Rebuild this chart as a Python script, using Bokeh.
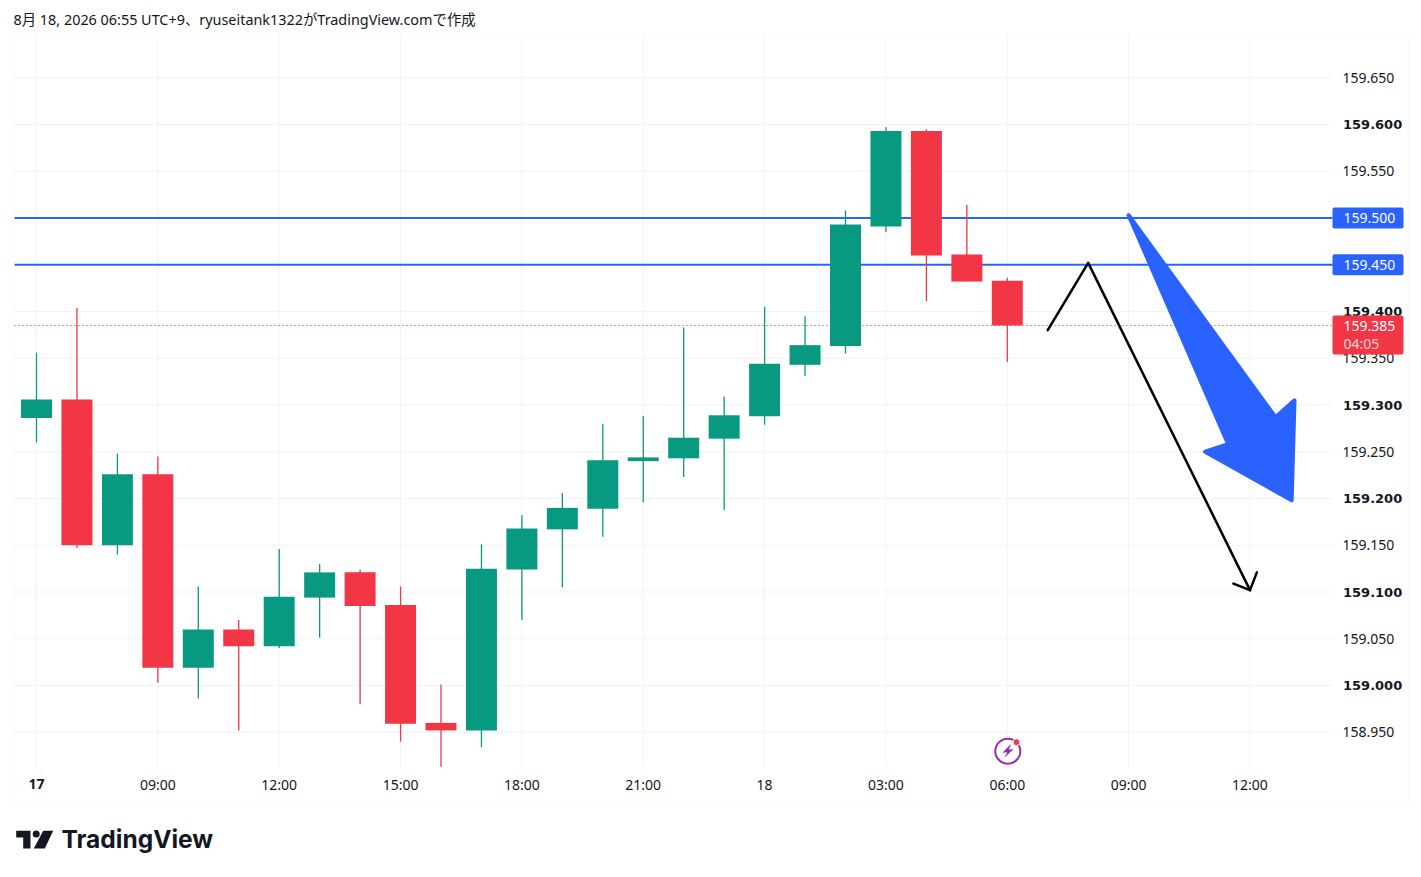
from bokeh.plotting import figure
from bokeh.embed import file_html
from bokeh.resources import INLINE
from bokeh.models import (ColumnDataSource, Range1d, LinearAxis, FixedTicker, Label,
                          BoxAnnotation, PolyAnnotation)

bar_index = list(range(25))
opens = [159.286,159.306,159.150,159.226,159.019,159.060,159.042,159.094,159.121,159.086,158.960,158.952,159.124,159.167,159.189,159.240,159.243,159.264,159.288,159.343,159.363,159.491,159.593,159.461,159.433]
highs = [159.356,159.404,159.248,159.245,159.106,159.070,159.146,159.130,159.124,159.106,159.001,159.151,159.182,159.206,159.280,159.288,159.383,159.309,159.405,159.395,159.508,159.597,159.595,159.514,159.436]
lows  = [159.260,159.147,159.140,159.003,158.986,158.952,159.040,159.051,158.980,158.940,158.913,158.934,159.070,159.105,159.159,159.196,159.223,159.188,159.279,159.331,159.355,159.485,159.411,159.432,159.346]
closes= [159.306,159.150,159.226,159.019,159.060,159.042,159.095,159.121,159.085,158.959,158.952,159.125,159.168,159.190,159.241,159.244,159.265,159.289,159.344,159.364,159.493,159.593,159.460,159.432,159.385]

time_ticks = [0,3,6,9,12,15,18,21,24,27,30]
time_labels = ["17","09:00","12:00","15:00","18:00","21:00","18","03:00","06:00","09:00","12:00"]
price_ticks = [158.95,159.0,159.05,159.1,159.15,159.2,159.25,159.3,159.35,159.4,159.45,159.5,159.55,159.6,159.65]
price_labels = ["158.950","159.000","159.050","159.100","159.150","159.200","159.250","159.300","159.350","159.400","159.450","159.500","159.550","159.600","159.650"]
strong_prices = ["159.000","159.100","159.200","159.300","159.400","159.600"]
levels = [159.5, 159.45]
level_labels = ["159.500", "159.450"]
last_price = 159.385
countdown = "04:05"
path_x = [25, 26, 30]
path_y = [159.380, 159.452, 159.102]
head_x = [29.59, 30.0, 30.17]
head_y = [159.109, 159.102, 159.121]
big_x = [27, 30.63, 31.1, 31.03, 28.89, 29.46]
big_y = [159.503, 159.287, 159.305, 159.198, 159.250, 159.258]
caption = "8月 18, 2026 06:55 UTC+9、ryuseitank1322がTradingView.comで作成"

GREEN, RED, BLUE, INK, GRID = "#089981", "#f23645", "#2962ff", "#131722", "#f1f3f7"
PURPLE = "#9c27b0"
FONT = "'Noto Sans', 'Noto Sans CJK JP', sans-serif"
W, H = 1413, 869

# picture pixel -> data coordinate, used for the page furniture around the chart
def X(px): return (px - 36.0) / 40.45
def Y(py): return 159.6 - (py - 124.0) / 935.0

up = [c >= o for o, c in zip(opens, closes)]
src = ColumnDataSource(dict(
    x=bar_index, high=highs, low=lows,
    top=[max(o, c) for o, c in zip(opens, closes)],
    bottom=[min(o, c) for o, c in zip(opens, closes)],
    color=[GREEN if u else RED for u in up]))

p = figure(width=W, height=H, output_backend="svg", toolbar_location=None,
           x_range=Range1d(X(0), X(W)), y_range=Range1d(Y(H), Y(0)),
           min_border=0, background_fill_color="white", border_fill_color="white",
           outline_line_color=None, x_axis_location=None, y_axis_location=None)
p.grid.visible = False

pane_l, pane_r, pane_t, pane_b = X(14), X(1332), Y(35), Y(767)
p.segment(time_ticks, pane_b, time_ticks, pane_t, line_color=GRID, line_width=1)
p.segment(pane_l, price_ticks, pane_r, price_ticks, line_color=GRID, line_width=1)

ax = LinearAxis(ticker=FixedTicker(ticks=time_ticks), fixed_location=pane_b)
ax.major_label_overrides = {t: ("" if l == "17" else l) for t, l in zip(time_ticks, time_labels)}
ay = LinearAxis(ticker=FixedTicker(ticks=price_ticks), fixed_location=pane_r)
ay.major_label_overrides = {t: ("" if l in strong_prices else l) for t, l in zip(price_ticks, price_labels)}
for a in (ax, ay):
    a.axis_line_color = None
    a.major_tick_line_color = None
    a.minor_tick_line_color = None
    a.major_label_text_font = FONT
    a.major_label_text_font_size = "14px"
    a.major_label_text_color = INK
ax.major_label_standoff = 1
ay.major_label_standoff = 4
p.add_layout(ax, "below")
p.add_layout(ay, "right")

for lv in levels:
    p.segment(pane_l, lv, pane_r, lv, line_color=BLUE, line_width=2)
p.segment(pane_l, last_price, pane_r, last_price, line_color="#b02a45", line_width=1, line_dash="1 3")

p.segment("x", "high", "x", "low", source=src, line_color="color", line_width=1.3)
p.vbar("x", 0.766, "top", "bottom", source=src, fill_color="color", line_color=None)

p.line(path_x, path_y, line_color="black", line_width=2.5, line_join="round", line_cap="round")
p.line(head_x, head_y, line_color="black", line_width=2.5, line_join="miter", line_cap="round")
p.patch(big_x, big_y, fill_color=BLUE, line_color=BLUE, line_width=4, line_join="round")

# news marker near the last bar
p.scatter([X(1007.3)], [Y(750.7)], size=25, marker="circle", fill_color="white", line_color=PURPLE, line_width=2)
p.add_layout(PolyAnnotation(xs=[X(v) for v in (1010.7, 1002, 1006.7, 1004, 1013.3, 1008.3)],
                            ys=[Y(v) for v in (743.3, 752.3, 751.7, 757.3, 748.3, 749.3)],
                            fill_color=PURPLE, fill_alpha=1, line_color=None))
p.scatter([X(1016)], [Y(741.7)], size=7, marker="circle", fill_color=RED, line_color="white", line_width=1)

# outer frame of the snapshot
p.add_layout(BoxAnnotation(left=X(13), right=X(1408), top=Y(34.5), bottom=Y(802), fill_alpha=0,
                           line_color="#eff1f5", line_width=2))

# stronger price labels and the first date label
for t, l in zip(price_ticks, price_labels):
    if l in strong_prices:
        p.add_layout(Label(x=X(1342.5), y=t, text=l, text_font="DejaVu Sans", text_font_size="13px",
                           text_font_style="bold", text_color=INK, text_baseline="middle"))
p.add_layout(Label(x=time_ticks[0], y=Y(778), text=time_labels[0], text_font=FONT, text_font_size="14px",
                   text_font_style="bold", text_color=INK, text_align="center", text_baseline="top"))

# price tags
for lv, txt in zip(levels, level_labels):
    p.add_layout(BoxAnnotation(left=X(1332), right=X(1403), top=lv + 10.5 / 935, bottom=lv - 10.5 / 935,
                               fill_color=BLUE, fill_alpha=1, line_color=None, border_radius=2))
    p.add_layout(Label(x=X(1343), y=lv, text=txt, text_font=FONT, text_font_size="14px",
                       text_color="white", text_baseline="middle"))
p.add_layout(BoxAnnotation(left=X(1332), right=X(1403), top=Y(315), bottom=Y(354), fill_color=RED,
                           fill_alpha=1, line_color=None, border_radius=2))
p.add_layout(Label(x=X(1343), y=last_price, text=f"{last_price:.3f}", text_font=FONT, text_font_size="14px",
                   text_color="white", text_baseline="middle"))
p.add_layout(Label(x=X(1343), y=Y(343), text=countdown, text_font=FONT, text_font_size="14px",
                   text_color="white", text_alpha=0.8, text_baseline="middle"))

p.add_layout(Label(x=X(13), y=Y(18.5), text=caption, text_font=FONT, text_font_size="14.4px",
                   text_color=INK, text_baseline="middle"))

# wordmark
p.add_layout(PolyAnnotation(xs=[X(v) for v in (15.7, 30, 30, 22.7, 22.7, 15.7)],
                            ys=[Y(v) for v in (830.3, 830.3, 848, 848, 837, 837)],
                            fill_color=INK, fill_alpha=1, line_color=None))
p.add_layout(PolyAnnotation(xs=[X(v) for v in (42.7, 52.7, 44.3, 33.3)],
                            ys=[Y(v) for v in (830.3, 830.3, 848, 848)],
                            fill_color=INK, fill_alpha=1, line_color=None))
p.scatter([X(35.7)], [Y(833.5)], size=7, marker="circle", fill_color=INK, line_color=None)
p.add_layout(Label(x=X(61), y=Y(838), text="TradingView", text_font="Inter", text_font_size="24.5px",
                   text_font_style="bold", text_color=INK, text_baseline="middle"))

html = file_html(p, INLINE)
open("out.html", "w").write(html)
